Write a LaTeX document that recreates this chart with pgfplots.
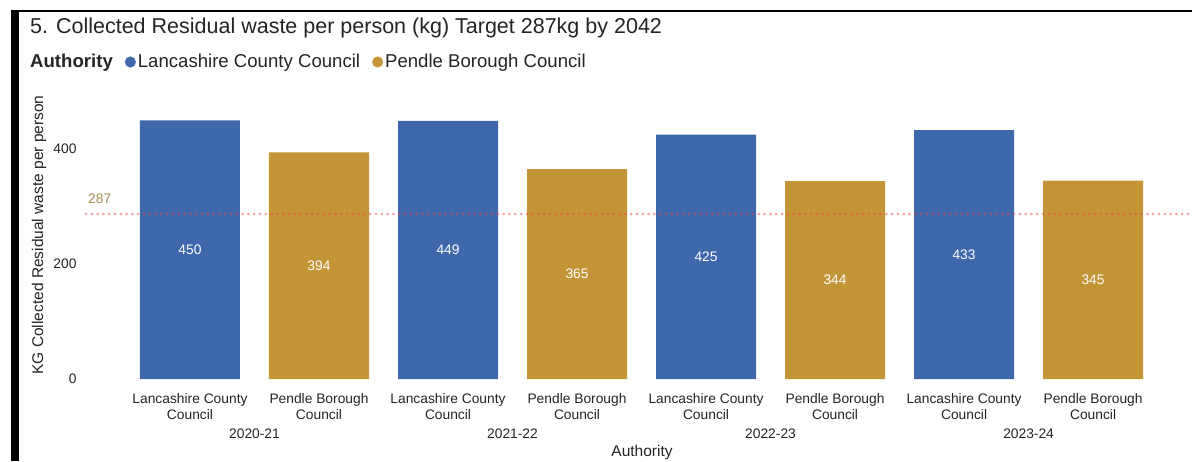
\documentclass[border=0pt]{standalone}
\usepackage{pgfplots}
\pgfplotsset{compat=1.18}
\usepackage{fontspec}
\setmainfont{Liberation Sans}

\definecolor{lcc}{RGB}{62,103,172}
\definecolor{pbc}{RGB}{196,149,55}
\definecolor{tgt}{RGB}{240,70,70}
\definecolor{tgtlab}{RGB}{160,138,78}
\definecolor{txt}{RGB}{37,36,35}

\newcommand{\tickfont}{\fontsize{13.8}{16}\selectfont}
\newcommand{\labfont}{\fontsize{15.5}{18}\selectfont}

\begin{document}
\begin{tikzpicture}[x=1pt,y=1pt]
\useasboundingbox (0,0) rectangle (1192,-461);
% page frame
\fill[black] (11,-11) rectangle (19,-461);
\draw[black, line width=1.5pt] (11,-11) -- (1192,-11);
% title
\node[anchor=base west, inner sep=0pt, text=txt, font=\fontsize{21.5}{24}\selectfont]
  at (30,-33) {5. Collected Residual waste per person (kg) Target 287kg by 2042};

\begin{axis}[
  at={(86pt,-379pt)}, anchor=south west,
  scale only axis, width=1106pt, height=276pt,
  xmin=-0.806, xmax=7.767, ymin=0, ymax=480,
  clip=false,
  axis line style={draw=none},
  major tick length=0pt,
  /pgf/number format/assume math mode=true,
  ytick={0,200,400},
  yticklabel style={font=\tickfont, text=txt, xshift=-6pt},
  xtick={0,...,7},
  xticklabels={{Lancashire County\\Council},{Pendle Borough\\Council},
               {Lancashire County\\Council},{Pendle Borough\\Council},
               {Lancashire County\\Council},{Pendle Borough\\Council},
               {Lancashire County\\Council},{Pendle Borough\\Council}},
  xticklabel style={font=\tickfont, text=txt, align=center, yshift=-11pt},
  extra x ticks={0.5,2.5,4.5,6.5},
  extra x tick labels={2020-21,2021-22,2022-23,2023-24},
  extra x tick style={xticklabel style={yshift=-35pt}},
  xlabel={Authority},
  ylabel={KG Collected Residual waste per person},
  every axis x label/.style={at={(rel axis cs:0.5,0)}, anchor=center,
    xshift=3pt, yshift=-73pt, font=\labfont, text=txt},
  every axis y label/.style={at={(rel axis cs:0,0.5)}, anchor=center,
    xshift=-47pt, yshift=6pt, rotate=90, font=\labfont, text=txt},
  legend columns=-1,
  legend style={at={(rel axis cs:0,1)}, anchor=west, xshift=-58pt, yshift=41pt,
    draw=none, fill=none, inner sep=0pt, font=\fontsize{18.6}{20}\selectfont,
    text=txt, /tikz/every even column/.style={column sep=10pt}},
  legend cell align=left,
]
\addlegendimage{empty legend}
\addlegendentry{\textbf{Authority}}
\addlegendimage{legend image code/.code={\fill[lcc] (4pt,0pt) circle (5.3pt);}}
\addlegendentry{Lancashire County Council}
\addlegendimage{legend image code/.code={\fill[pbc] (4pt,0pt) circle (5.3pt);}}
\addlegendentry{Pendle Borough Council}

\addplot[ybar, bar width=100pt, bar shift=0pt, fill=lcc, draw=none, forget plot,
  nodes near coords, visualization depends on={y \as \rawy},
  nodes near coords style={font=\tickfont, text=white, anchor=center,
    shift={(axis direction cs:0,-\rawy/2)}}]
  coordinates {(0,450) (2,449) (4,425) (6,433)};
\addplot[ybar, bar width=100pt, bar shift=0pt, fill=pbc, draw=none, forget plot,
  nodes near coords, visualization depends on={y \as \rawy},
  nodes near coords style={font=\tickfont, text=white, anchor=center,
    shift={(axis direction cs:0,-\rawy/2)}}]
  coordinates {(1,394) (3,365) (5,344) (7,345)};

% target line
\addplot[tgt, opacity=0.5, line width=3pt, line cap=round,
  dash pattern=on 0pt off 5.8pt, forget plot]
  coordinates {(-0.806,287) (7.767,287)};
\node[anchor=south west, inner sep=2pt, yshift=8pt, text=tgtlab, font=\tickfont]
  at (axis cs:-0.806,287) {287};
\end{axis}
\end{tikzpicture}
\end{document}
